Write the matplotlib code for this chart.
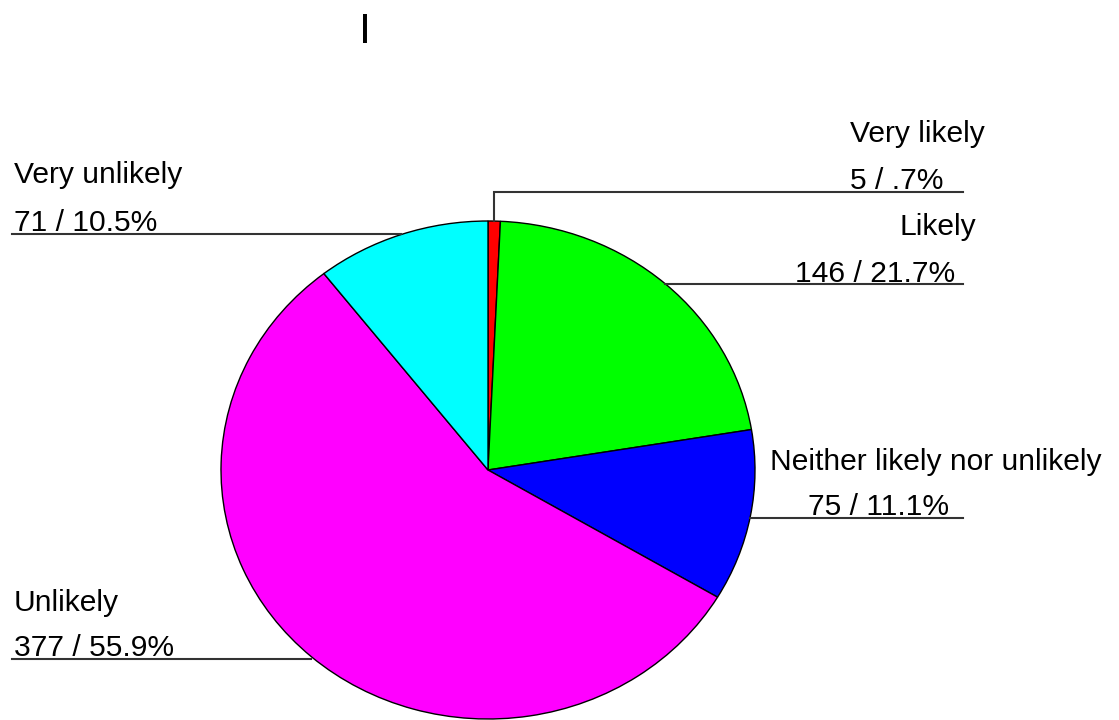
import matplotlib
matplotlib.use("Agg")
import matplotlib.pyplot as plt
import numpy as np

# ---- data ----
categories = ["Very likely", "Likely", "Neither likely nor unlikely", "Unlikely", "Very unlikely"]
counts = [5, 146, 75, 377, 71]
colors = ["#FF0000", "#00FF00", "#0000FF", "#FF00FF", "#00FFFF"]
title_text = "I"

total = sum(counts)
def fmt(c):
    p = f"{100 * c / total:.1f}"
    if p.startswith("0."):
        p = p[1:]
    return f"{c} / {p}%"
value_labels = [fmt(c) for c in counts]

W, H = 1119, 720
plt.rcParams['font.family'] = ['Liberation Sans', 'DejaVu Sans']
fig = plt.figure(figsize=(W / 100, H / 100), dpi=100)

# pie geometry (pixels)
cx, cy, rx, ry = 488, 470, 267, 249
pax = fig.add_axes([(cx - rx) / W, (H - cy - ry) / H, 2 * rx / W, 2 * ry / H])
wedges, _ = pax.pie(counts, colors=colors, startangle=90, counterclock=False,
                    wedgeprops=dict(edgecolor="black", linewidth=1.0))
pax.set_aspect('auto')
pax.set_xlim(-1, 1)
pax.set_ylim(-1, 1)
pax.axis('off')

# overlay axes in pixel coordinates
ax = fig.add_axes([0, 0, 1, 1], facecolor='none')
ax.set_xlim(0, W)
ax.set_ylim(H, 0)
ax.axis('off')

fs = 21.6
line_col = "#333333"
# label layout: (side, name x, name baseline, value x, value baseline, line y, line end x)
layout = [
    ("right", 850, 142, 850, 189, 192, 963),
    ("right", 900, 235, 795, 282, 284, 963),
    ("right", 770, 470, 808, 515, 518, 963),
    ("left", 14, 611, 14, 656, 659, 12),
    ("left", 14, 183, 14, 231, 234, 12),
]
for w, name, val, (side, nx, ny, vx, vy, ly, lx) in zip(wedges, categories, value_labels, layout):
    mid = np.deg2rad((w.theta1 + w.theta2) / 2)
    px = cx + rx * np.cos(mid)
    py = cy - ry * np.sin(mid)
    ax.text(nx, ny, name, fontsize=fs, ha='left', va='baseline', color='black')
    ax.text(vx, vy, val, fontsize=fs, ha='left', va='baseline', color='black')
    if abs(py - ly) > 5:
        ax.plot([px, px, lx], [py, ly, ly], color=line_col, lw=1.5, solid_joinstyle='miter')
    else:
        ax.plot([px, lx], [ly, ly], color=line_col, lw=1.5)

ax.text(365, 43, title_text, fontsize=31, ha='center', va='baseline', color='black')

fig.savefig("out.png", dpi=100)
